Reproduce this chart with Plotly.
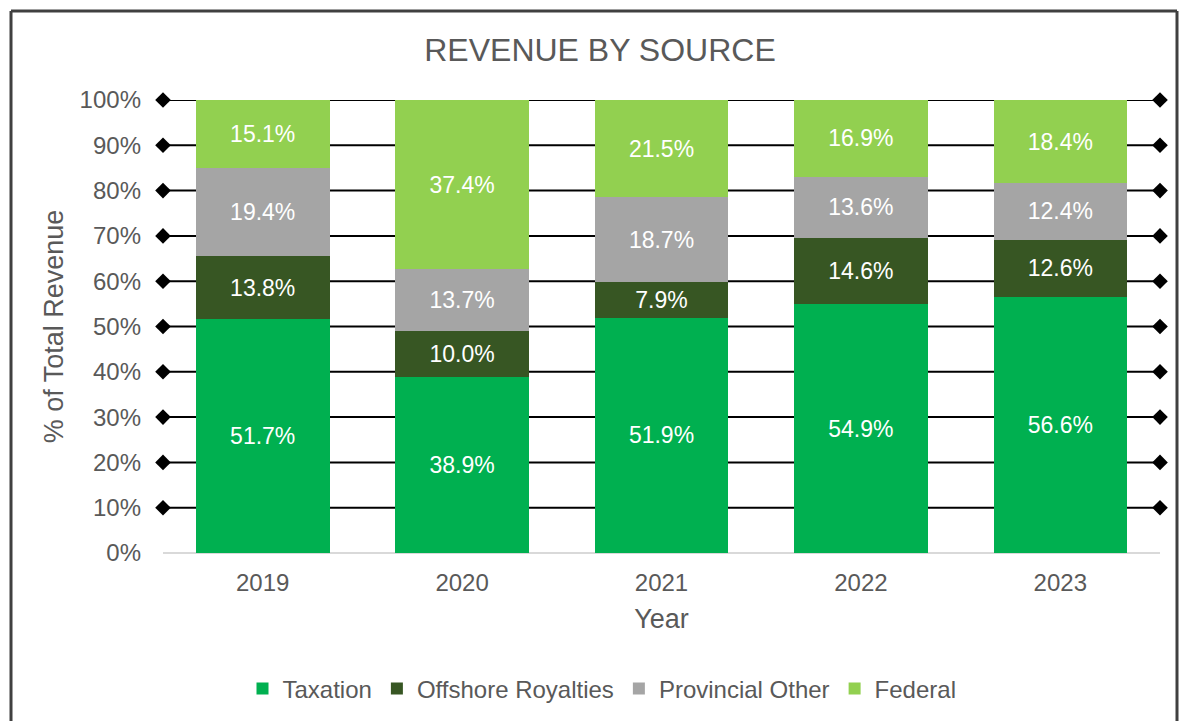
import plotly.graph_objects as go

years = ["2019", "2020", "2021", "2022", "2023"]
taxation = [51.7, 38.9, 51.9, 54.9, 56.6]
offshore = [13.8, 10.0, 7.9, 14.6, 12.6]
provincial = [19.4, 13.7, 18.7, 13.6, 12.4]
federal = [15.1, 37.4, 21.5, 16.9, 18.4]
grid_levels = [10, 20, 30, 40, 50, 60, 70, 80, 90, 100]
tick_vals = [0, 10, 20, 30, 40, 50, 60, 70, 80, 90, 100]
tick_text = [f"{v}%" for v in tick_vals]

series = [
    ("Taxation", taxation, "#00B050"),
    ("Offshore Royalties", offshore, "#375623"),
    ("Provincial Other", provincial, "#A5A5A5"),
    ("Federal", federal, "#92D050"),
]

FONT = "Liberation Sans, Arial, sans-serif"
GREY = "#595959"

fig = go.Figure()

# gridlines with diamond ends (base axis, drawn below bars)
for lv in grid_levels:
    fig.add_trace(go.Scatter(
        x=[0, 1], y=[lv, lv], mode="lines+markers",
        line=dict(color="black", width=2),
        marker=dict(symbol="diamond", size=12, color="black"),
        xaxis="x", yaxis="y", showlegend=False, hoverinfo="skip",
        cliponaxis=False,
    ))

for name, vals, col in series:
    fig.add_trace(go.Bar(
        x=years, y=vals, name=name, marker_color=col,
        marker_line_width=0,
        text=[f"{v:.1f}%" for v in vals], textposition="inside",
        insidetextanchor="middle", textangle=0,
        textfont=dict(color="white", size=23, family=FONT),
        xaxis="x2", yaxis="y",
    ))

W, H = 1180, 721
L, R, T, B = 163, 20, 100, 168
pw, ph = W - L - R, H - T - B

def px(x):
    return (x - L) / pw

def py(y):
    return (H - B - y) / ph

fig.update_layout(
    width=W, height=H,
    barmode="stack", bargap=0.33,
    paper_bgcolor="white", plot_bgcolor="white",
    margin=dict(l=L, r=R, t=T, b=B, autoexpand=False),
    font=dict(family=FONT, color=GREY, size=24),
    title=dict(text="REVENUE BY SOURCE", x=px(600), xanchor="center",
               y=1 - 50 / H, yanchor="middle", xref="paper",
               font=dict(size=32, color=GREY)),
    xaxis=dict(range=[0, 1], visible=False, showgrid=False, zeroline=False, fixedrange=True),
    xaxis2=dict(overlaying="x", side="bottom", type="category",
                showline=False, showgrid=False, zeroline=False,
                ticklabelstandoff=13,
                title=dict(text="Year", font=dict(size=27, color=GREY), standoff=14),
                tickfont=dict(size=24, color=GREY), ticks=""),
    yaxis=dict(range=[0, 100], tickvals=tick_vals, ticktext=tick_text,
               showgrid=False, zeroline=True, zerolinecolor="#D9D9D9", zerolinewidth=2,
               ticklabelstandoff=21,
               title=dict(text="% of Total Revenue", font=dict(size=27, color=GREY), standoff=8),
               tickfont=dict(size=24, color=GREY), ticks=""),
    legend=dict(orientation="h", x=px(602), xanchor="center", y=py(689), yanchor="middle",
                font=dict(size=24, color=GREY), traceorder="normal",
                itemwidth=30),
)

# outer chart border
bc = dict(color="#404040", width=3)
fig.add_shape(type="line", xref="paper", yref="paper",
              x0=px(11), x1=px(1177), y0=py(11), y1=py(11), line=bc)
fig.add_shape(type="line", xref="paper", yref="paper",
              x0=px(11), x1=px(11), y0=py(11), y1=py(730), line=bc)
fig.add_shape(type="line", xref="paper", yref="paper",
              x0=px(1177), x1=px(1177), y0=py(11), y1=py(730), line=bc)

fig.write_html("out.html", config={"displayModeBar": False},
               post_script="document.body.style.margin='0';document.body.style.overflow='hidden';")
